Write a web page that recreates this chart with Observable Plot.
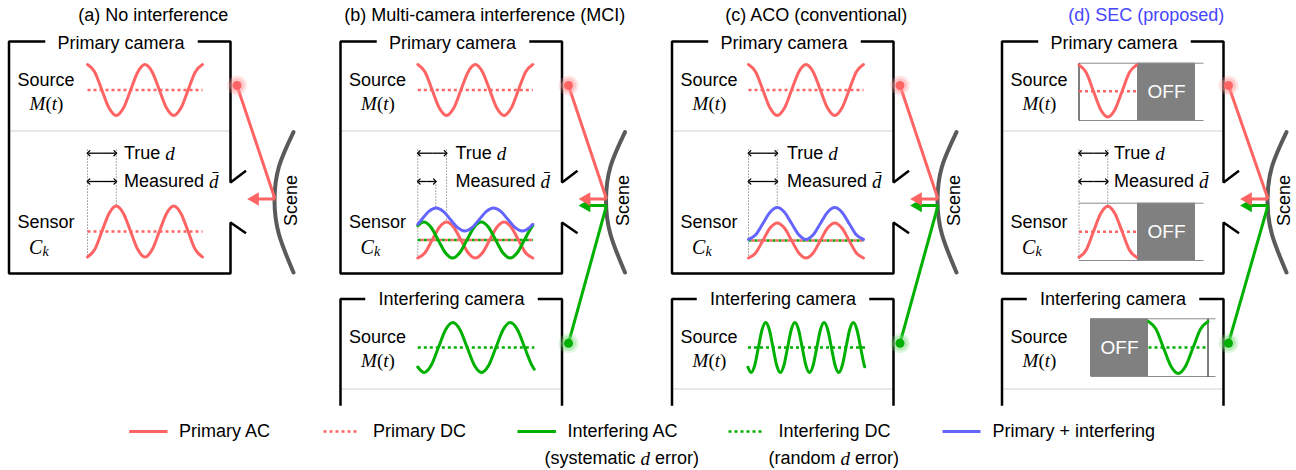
<!DOCTYPE html>
<html><head><meta charset="utf-8">
<script src="https://cdn.jsdelivr.net/npm/d3@7"></script>
<script src="https://cdn.jsdelivr.net/npm/@observablehq/plot@0.6"></script>
<style>body{margin:0;background:#fff}</style>
</head><body><div id="chart"></div>
<script>
// ---------------- data ----------------
const panelTitles = ["(a) No interference", "(b) Multi-camera interference (MCI)", "(c) ACO (conventional)", "(d) SEC (proposed)"];
const legendLabels = ["Primary AC", "Primary DC", "Interfering AC", "Interfering DC", "Primary + interfering"];
const legendNotes = [null, null, ["(systematic ", "d", " error)"], ["(random ", "d", " error)"], null];

// waveforms: t = offset along the wave (px), v = normalised level (-1..1)
const tTwo     = [0,7.19,14.38,21.56,28.75,35.94,43.13,50.31,57.5,64.69,71.88,79.06,86.25,93.44,100.63,107.81,115];
const vSrcTwo  = [1,0.71,0,-0.71,-1,-0.71,0,0.71,1,0.71,0,-0.71,-1,-0.71,0,0.71,1];
const vSenTwo  = [-1,-0.71,0,0.71,1,0.71,0,-0.71,-1,-0.71,0,0.71,1,0.71,0,-0.71,-1];
const tGreenB  = [0,6,13.19,20.38,27.56,34.75,41.94,49.13,56.31,63.5,70.69,77.88,85.06,92.25,99.44,106.63,113.81,115];
const vGreenB  = [0.79,1,0.71,0,-0.71,-1,-0.71,0,0.71,1,0.71,0,-0.71,-1,-0.71,0,0.71,0.79];
const tBlueB   = [0,3.93,11.11,18.3,25.49,32.68,39.86,47.05,54.24,61.43,68.61,75.8,82.99,90.18,97.36,104.55,111.74,115];
const vBlueB   = [-0.42,0,0.71,1,0.71,0,-0.71,-1,-0.71,0,0.71,1,0.71,0,-0.71,-1,-0.71,-0.42];
const tIntB    = [0,6.25,13.44,20.63,27.81,35,42.19,49.38,56.56,63.75,70.94,78.13,85.31,92.5,99.69,106.88,114.06,116.5];
const vIntB    = [-0.78,-1,-0.71,0,0.71,1,0.71,0,-0.71,-1,-0.71,0,0.71,1,0.71,0,-0.71,-0.87];
const tIntC    = [0,3.1,6.75,10.4,14.05,17.7,21.35,25,28.65,32.3,35.95,39.6,43.25,46.9,50.55,54.2,57.85,61.5,65.15,68.8,72.45,76.1,79.75,83.4,87.05,90.7,94.35,98,101.65,105.3,108.95,112.6,116.25,116.7];
const vIntC    = [-0.79,-1,-0.71,0,0.71,1,0.71,0,-0.71,-1,-0.71,0,0.71,1,0.71,0,-0.71,-1,-0.71,0,0.71,1,0.71,0,-0.71,-1,-0.71,0,0.71,1,0.71,0,-0.71,-0.77];
const tOne     = [0,7.2,14.4,21.6,28.8,36,43.2,50.4,57.6];
const vSrcOne  = [1,0.71,0,-0.71,-1,-0.71,0,0.71,1];
const vSenOne  = [-1,-0.71,0,0.71,1,0.71,0,-0.71,-1];
const tIntD    = [0,7.44,14.88,22.31,29.75,37.19,44.63,52.06,59.5];

// ---------------- styles & layout ----------------
const W = 1296, H = 470;
const SANS = "'Liberation Sans', Arial, sans-serif";
const SERIF = "'Liberation Serif', 'DejaVu Serif', serif";
const FS = 18;
const RED = "#ff6464", GREEN = "#00b000", BLUE = "#6464ff", SCENE = "#5a5a5a";
const titleColors = ["#000", "#000", "#000", "#4646ff"];
const boxL = [8.5, 340, 671.5, 1001.5];
const BOX_W = 221.5;
const waveX0 = [87, 417.3, 748, 1078.5];

const ctx = document.createElement("canvas").getContext("2d");
const tw = (s, font) => { ctx.font = font; return ctx.measureText(s).width; };

const marks = [];
const wave = (t, v, x0, yc, amp) => t.map((tt, i) => ({x: x0 + tt, y: yc - v[i] * amp}));
const seg = (rows, opts) => marks.push(Plot.link(rows.map(([x1, y1, x2, y2]) => ({x1, y1, x2, y2})), {x1: "x1", y1: "y1", x2: "x2", y2: "y2", ...opts}));
const line = (rows, opts) => marks.push(Plot.line(rows, {x: "x", y: "y", curve: "monotone-x", strokeWidth: 3, ...opts}));
const dc = (x1, x2, y, color, offset = 0) => seg([[x1, y, x2, y]], {stroke: color, strokeWidth: 2.5, strokeDasharray: "3,3", strokeDashoffset: offset});
const label = (rows, opts) => marks.push(Plot.text(rows, {x: "x", y: "y", text: "text", fontSize: FS, fontFamily: SANS, ...opts}));

// rich text runs: parts [string, kind]  kind: "s" sans, "m" serif italic, "r" serif upright
const KIND = {
  s: {size: FS, family: SANS, style: "normal"},
  m: {size: 19, family: SERIF, style: "italic"},
  r: {size: 19, family: SERIF, style: "normal"}
};
function runs(x, y, parts, anchor = "start") {
  const ks = parts.map(([, k]) => KIND[k]);
  const widths = parts.map(([s], i) => tw(s, `${ks[i].style} ${ks[i].size}px ${ks[i].family}`));
  let cx = anchor === "middle" ? x - d3.sum(widths) / 2 : x;
  parts.forEach(([s], i) => {
    marks.push(Plot.text([{x: cx, y, text: s}], {x: "x", y: "y", text: "text", textAnchor: "start",
      fontSize: ks[i].size, fontFamily: ks[i].family, fontStyle: ks[i].style}));
    cx += widths[i];
  });
}
const Mt = [["M", "m"], ["(", "r"], ["t", "m"], [")", "r"]];

// ---------------- backgrounds: OFF blocks for (d) ----------------
{
  const L = boxL[3];
  marks.push(Plot.rect([
    {x1: L + 135.5, x2: L + 193.5, y1: 62.7, y2: 120},
    {x1: L + 135.5, x2: L + 193.5, y1: 202.7, y2: 260},
    {x1: L + 88.5, x2: L + 146.5, y1: 318.3, y2: 376}
  ], {x1: "x1", x2: "x2", y1: "y1", y2: "y2", fill: "#808080"}));
  const X0 = waveX0[3];
  seg([[X0, 62.7, L + 201.5, 62.7], [X0, 120, L + 201.5, 120], [X0, 202.7, L + 201.5, 202.7], [X0, 260, L + 201.5, 260],
       [L + 88.5, 318.3, L + 213.5, 318.3], [L + 88.5, 376, L + 213.5, 376]], {stroke: "#8a8a8a", strokeWidth: 1});
  seg([[X0, 62.7, X0, 120], [L + 206, 318.3, L + 206, 376]], {stroke: "#000", strokeWidth: 1});
  label([{x: L + 164.5, y: 91, text: "OFF"}, {x: L + 164.5, y: 231.5, text: "OFF"}, {x: L + 117.5, y: 347, text: "OFF"}], {fill: "#fff", fontSize: 19});
}

// ---------------- boxes, dividers ----------------
const boxPaths = [];
boxL.forEach((L, i) => {
  const R = L + BOX_W;
  boxPaths.push([[L + 35, 41], [L, 41], [L, 273], [R, 273], [R, 222], [R + 14.5, 232]].map(([x, y]) => ({id: `p${i}a`, x, y})));
  boxPaths.push([[R + 14.5, 171], [R, 182], [R, 41], [L + 190, 41]].map(([x, y]) => ({id: `p${i}b`, x, y})));
  if (i > 0) {
    boxPaths.push([[L + 23.5, 298.5], [L, 298.5], [L, 404]].map(([x, y]) => ({id: `i${i}a`, x, y})));
    boxPaths.push([[L + 198.5, 298.5], [R, 298.5], [R, 404]].map(([x, y]) => ({id: `i${i}b`, x, y})));
  }
  seg([[L, 130.5, R, 130.5]].concat(i > 0 ? [[L, 388.5, R, 388.5]] : []), {stroke: "#cfcfcf", strokeWidth: 1.2});
});
marks.push(Plot.line(boxPaths.flat(), {x: "x", y: "y", z: "id", stroke: "#000", strokeWidth: 2.5, strokeLinejoin: "miter", strokeLinecap: "square"}));

// ---------------- texts in boxes ----------------
boxL.forEach((L, i) => {
  const R = L + BOX_W;
  label([{x: L + BOX_W / 2 + 33.5, y: 15, text: panelTitles[i]}], {fill: titleColors[i]});
  label([{x: L + 112, y: 43, text: "Primary camera"}, {x: L + 37, y: 80, text: "Source"}, {x: L + 37, y: 222, text: "Sensor"}]);
  runs(L + 37.5, 103, Mt, "middle");
  marks.push(Plot.text([{x: L + 20, y: 247, text: "C"}], {x: "x", y: "y", text: "text", textAnchor: "start", fontSize: 20, fontFamily: SERIF, fontStyle: "italic"}));
  marks.push(Plot.text([{x: L + 33.5, y: 251, text: "k"}], {x: "x", y: "y", text: "text", textAnchor: "start", fontSize: 14, fontFamily: SERIF, fontStyle: "italic"}));
  const tx = i === 3 ? L + 112 : L + 115;
  runs(tx, 153, [["True ", "s"], ["d", "m"]]);
  runs(tx, 181, [["Measured ", "s"], ["d\u0304", "m"]]);
  marks.push(Plot.text([{x: R + 61, y: 200, text: "Scene"}], {x: "x", y: "y", text: "text", rotate: -90, fontSize: FS, fontFamily: SANS}));
  if (i > 0) {
    label([{x: L + 111, y: 299, text: "Interfering camera"}, {x: L + 37, y: 337, text: "Source"}]);
    runs(L + 37.5, 360, Mt, "middle");
  }
});

// ---------------- d markers (dotted guides + double arrows) ----------------
const guidePeak = [206, 221.5, 207, 206];
boxL.forEach((L, i) => {
  const X0 = waveX0[i];
  const guides = [[X0, 149, X0, i === 3 ? 260 : 258], [X0 + 28.75, 149, X0 + 28.75, guidePeak[i]]];
  if (i === 1) guides.push([X0 + 18, 181, X0 + 18, 207.5]);
  seg(guides, {stroke: "#777", strokeWidth: 1, strokeDasharray: "1.2,1.8"});
  const spans = [[X0 + 1, X0 + 27.8, 152.7], [X0 + 1, X0 + (i === 1 ? 17 : 27.8), 181]];
  const halves = spans.flatMap(([a, b, y]) => [[(a + b) / 2, y, a, y], [(a + b) / 2, y, b, y]]);
  seg(halves, {stroke: "#000", strokeWidth: 1.3, markerEnd: "arrow"});
});

// ---------------- waveforms ----------------
[0, 1, 2].forEach(i => {
  const X0 = waveX0[i];
  dc(X0, X0 + 115, 89.5, RED);
  line(wave(tTwo, vSrcTwo, X0, 89.5, 25.5), {stroke: RED});
});
dc(waveX0[0], waveX0[0] + 115, 231, RED);
line(wave(tTwo, vSenTwo, waveX0[0], 231, 25.5), {stroke: RED});
dc(waveX0[1], waveX0[1] + 115, 239.5, GREEN);
dc(waveX0[1], waveX0[1] + 115, 239.5, RED, 3);
line(wave(tTwo, vSenTwo, waveX0[1], 239.5, 18), {stroke: RED});
line(wave(tGreenB, vGreenB, waveX0[1], 239.5, 18), {stroke: GREEN});
line(wave(tBlueB, vBlueB, waveX0[1], 219, 11.5), {stroke: BLUE});
dc(waveX0[2], waveX0[2] + 115, 240, GREEN);
dc(waveX0[2], waveX0[2] + 115, 240, RED, 3);
line(wave(tTwo, vSenTwo, waveX0[2], 240, 17.5), {stroke: RED});
line(wave(tTwo, vSenTwo, waveX0[2], 223, 16), {stroke: BLUE});
dc(waveX0[1], waveX0[1] + 116.5, 347, GREEN);
line(wave(tIntB, vIntB, waveX0[1], 347, 25), {stroke: GREEN});
dc(waveX0[2] - 0.5, waveX0[2] + 116.5, 347, GREEN);
line(wave(tIntC, vIntC, waveX0[2] - 0.5, 347, 25), {stroke: GREEN});
{
  const X0 = waveX0[3], L = boxL[3];
  dc(X0, X0 + 58.5, 90.7, RED);
  line(wave(tOne, vSrcOne, X0, 90.5, 26), {stroke: RED});
  dc(X0, X0 + 58.5, 231.3, RED);
  line(wave(tOne, vSenOne, X0, 231.3, 25.5), {stroke: RED});
  dc(L + 146.5, L + 206, 347, GREEN);
  line(wave(tIntD, vSrcOne, L + 146.5, 347, 26), {stroke: GREEN});
}

// ---------------- light paths, scene, emitters ----------------
boxL.forEach((L, i) => {
  const R = L + BOX_W;
  const dotX = R + (i === 3 ? 5 : 6.5);
  line([[R + 63, 131.5], [R + 48.5, 166], [R + 44, 200], [R + 48.5, 234], [R + 63, 272]].map(([x, y]) => ({x, y})),
       {stroke: SCENE, strokeWidth: 4, curve: "natural"});
  if (i > 0) {
    seg([[dotX, 342.7, R + 44.5, 205], [R + 44.5, 205, R + 25, 205]], {stroke: GREEN, strokeWidth: 3});
    marks.push(Plot.dot([{x: R + 24.4, y: 205}], {x: "x", y: "y", symbol: "triangle", r: 5, rotate: -90, fill: GREEN}));
  }
  seg([[dotX, 85, R + 44.5, 198.5], [R + 44.5, 198.5, R + 25, 198.5]], {stroke: RED, strokeWidth: 3});
  marks.push(Plot.dot([{x: R + 24.4, y: 198.5}], {x: "x", y: "y", symbol: "triangle", r: 5, rotate: -90, fill: RED}));
  const em = [{x: dotX, y: 85, c: RED, g: "#ff9a9a"}].concat(i > 0 ? [{x: dotX, y: 342.7, c: GREEN, g: "#7ddc7d"}] : []);
  em.forEach(e => {
    marks.push(Plot.dot([e], {x: "x", y: "y", r: 10, fill: e.g, fillOpacity: 0.25}));
    marks.push(Plot.dot([e], {x: "x", y: "y", r: 7.5, fill: e.g, fillOpacity: 0.4}));
    marks.push(Plot.dot([e], {x: "x", y: "y", r: 4.5, fill: e.c}));
  });
});

// ---------------- legend ----------------
const legX1 = [128.7, 323, 517, 728, 942], legX2 = [167, 358, 555.4, 763, 980];
const legTextX = [178.5, 372.5, 567, 778, 992], legNoteX = [null, null, 544, 768, null];
const legColor = [RED, RED, GREEN, GREEN, BLUE], legDash = [null, "3,3", null, "3,3", null];
legendLabels.forEach((lab, i) => {
  seg([[legX1[i], 431, legX2[i], 431]], {stroke: legColor[i], strokeWidth: legDash[i] ? 2.5 : 3, strokeDasharray: legDash[i]});
  label([{x: legTextX[i], y: 431, text: lab}], {textAnchor: "start"});
  if (legendNotes[i]) runs(legNoteX[i], 458, legendNotes[i].map((s, k) => [s, k === 1 ? "m" : "s"]));
});

const chart = Plot.plot({
  width: W, height: H, margin: 0,
  x: {domain: [0, W], range: [0, W], axis: null},
  y: {domain: [0, H], range: [0, H], axis: null},
  style: {fontFamily: SANS, background: "#fff", color: "#000"},
  marks
});
document.getElementById("chart").appendChild(chart);
</script>
</body></html>
